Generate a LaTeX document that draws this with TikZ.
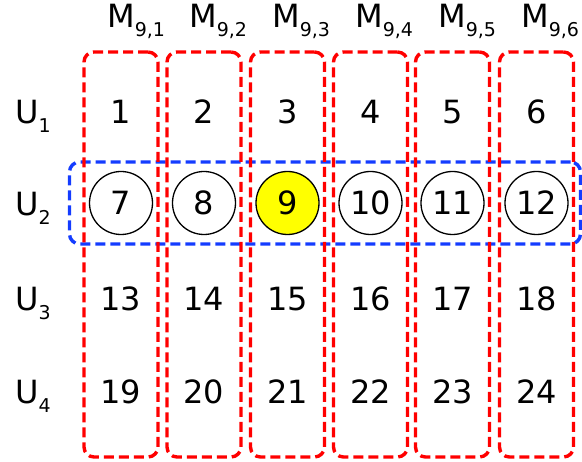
\documentclass[tikz,border=0pt]{standalone}
\usepackage{fontspec}
\setmainfont{DejaVu Sans}
\usepackage{tikz}
\usetikzlibrary{positioning}
\definecolor{colred}{RGB}{255, 0, 0}
\definecolor{rowblue}{RGB}{20, 60, 255}
\definecolor{hilite}{RGB}{255, 255, 0}
\newcommand{\lowix}[1]{\raisebox{-9pt}{\fontsize{19}{22}\selectfont #1}}

\begin{document}
\begin{tikzpicture}[x=1pt, y=-1pt,
        txt/.style={font=\fontsize{32}{38}\selectfont, inner sep=0pt},
        num/.style={txt, anchor=base},
        lbl/.style={txt, anchor=base west},
        ball/.style={draw, circle, line width=1.3pt, minimum size=63pt, txt},
        colbox/.style={draw=colred, line width=3.4pt, dash pattern=on 10pt off 5pt, rounded corners=10pt, minimum width=74pt, minimum height=405pt},
        rowbox/.style={draw=rowblue, line width=3.4pt, dash pattern=on 10pt off 5pt, rounded corners=10pt, minimum width=511pt, minimum height=82pt}
      ]
        \useasboundingbox (0,0) rectangle (582,462);

        % headers
        \node[lbl] (m1) at (107,28) {M\lowix{9,1}};
        \node[lbl] (m2) at (189,28) {M\lowix{9,2}};
        \node[lbl] (m3) at (272,28) {M\lowix{9,3}};
        \node[lbl] (m4) at (355,28) {M\lowix{9,4}};
        \node[lbl] (m5) at (438,28) {M\lowix{9,5}};
        \node[lbl] (m6) at (521,28) {M\lowix{9,6}};

        % row labels
        \node[lbl] (u1) at (15,124) {U\lowix{1}};
        \node[lbl] (u2) at (15,216) {U\lowix{2}};
        \node[lbl] (u3) at (15,311) {U\lowix{3}};
        \node[lbl] (u4) at (15,404) {U\lowix{4}};

        % row 1
        \node[num] (n1) at (121,124) {1};
        \node[num] (n2) at (204,124) {2};
        \node[num] (n3) at (287.5,124) {3};
        \node[num] (n4) at (370.5,124) {4};
        \node[num] (n5) at (452.5,124) {5};
        \node[num] (n6) at (536.5,124) {6};

        % row 2
        \node[ball] (n7) at (121,203) {7};
        \node[ball] (n8) at (204,203) {8};
        \node[ball, fill=hilite] (n9) at (287.5,203) {9};
        \node[ball] (n10) at (370.5,203) {10};
        \node[ball] (n11) at (452.5,203) {11};
        \node[ball] (n12) at (536.5,203) {12};

        % row 3
        \node[num] (n13) at (121,311) {13};
        \node[num] (n14) at (204,311) {14};
        \node[num] (n15) at (287.5,311) {15};
        \node[num] (n16) at (370.5,311) {16};
        \node[num] (n17) at (452.5,311) {17};
        \node[num] (n18) at (536.5,311) {18};

        % row 4
        \node[num] (n19) at (121,404) {19};
        \node[num] (n20) at (204,404) {20};
        \node[num] (n21) at (287.5,404) {21};
        \node[num] (n22) at (370.5,404) {22};
        \node[num] (n23) at (452.5,404) {23};
        \node[num] (n24) at (536.5,404) {24};

        % groups
        \node[rowbox] (r2) at (325,203) {};
        \node[colbox] (c1) at (121,254.5) {};
        \node[colbox] (c2) at (204,254.5) {};
        \node[colbox] (c3) at (287.5,254.5) {};
        \node[colbox] (c4) at (370.5,254.5) {};
        \node[colbox] (c5) at (452.5,254.5) {};
        \node[colbox] (c6) at (536.5,254.5) {};
      \end{tikzpicture}
\end{document}
